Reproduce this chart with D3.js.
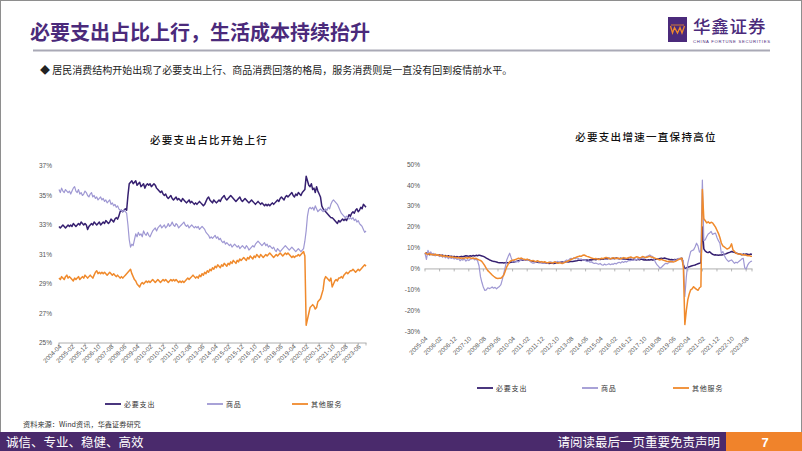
<!DOCTYPE html>
<html><head><meta charset="utf-8">
<script src="https://cdn.jsdelivr.net/npm/d3@7/dist/d3.min.js"></script>
<style>html,body{margin:0;padding:0;background:#fff;}svg{display:block;}</style>
</head><body>
<svg id="c" width="802" height="451"></svg>
<script>
// ---------- DATA ----------
const leftStart = [2004, 4];   // monthly, 2004-04 .. 2023-12
const rightStart = [2005, 4];  // monthly, 2005-04 .. 2023-12
const seriesNames = ["必要支出", "商品", "其他服务"];
const leftTickLabels = ["2004-04","2005-02","2005-12","2006-10","2007-08","2008-06","2009-04","2010-02","2010-12","2011-10","2012-08","2013-06","2014-04","2015-02","2015-12","2016-10","2017-08","2018-06","2019-04","2020-02","2020-12","2021-10","2022-08","2023-06"];
const rightTickLabels = ["2005-04","2006-02","2006-12","2007-10","2008-08","2009-06","2010-04","2011-02","2011-12","2012-10","2013-08","2014-06","2015-04","2016-02","2016-12","2017-10","2018-08","2019-06","2020-04","2021-02","2021-12","2022-10","2023-08"];
const leftYTicks = [25, 27, 29, 31, 33, 35, 37];
const rightYTicks = [-30, -20, -10, 0, 10, 20, 30, 40, 50];

// share of consumption (%)
const leftNecessary = [
32.9,32.8,32.9,33.0,32.9,32.8,32.9,33.0,32.9,
33.0,32.9,33.1,33.0,32.9,33.0,33.1,33.0,33.2,33.1,33.0,33.1,
33.0,32.7,32.9,33.0,33.1,33.0,33.2,33.1,33.0,33.1,33.2,33.0,
33.1,33.2,33.1,33.3,33.2,33.1,33.2,33.4,33.3,33.2,33.4,33.5,
33.4,33.6,33.9,34.0,33.9,34.0,34.1,34.0,35.0,35.8,35.9,36.0,
35.8,35.9,36.0,35.7,35.8,35.9,35.6,35.7,35.8,35.5,35.7,35.8,
35.7,35.8,35.6,35.7,35.8,35.7,35.5,35.4,35.3,35.2,35.3,35.1,
35.0,35.1,34.9,34.8,34.9,35.0,34.8,34.7,34.8,34.9,34.7,34.8,
34.7,34.6,34.8,34.7,34.6,34.5,34.6,34.7,34.5,34.6,34.5,34.4,
34.5,34.4,34.5,34.6,34.5,34.4,34.3,34.4,34.6,34.8,34.9,34.7,
34.6,34.5,34.7,34.6,34.5,34.6,34.7,34.6,34.8,34.9,35.0,34.8,
34.7,34.8,34.9,35.0,34.9,34.8,34.7,34.6,34.7,34.8,34.9,34.7,
34.6,34.7,34.8,34.7,34.6,34.5,34.6,34.7,34.6,34.5,34.4,34.5,
34.6,34.5,34.4,34.5,34.4,34.3,34.4,34.3,34.4,34.3,34.4,34.5,
34.4,34.5,34.6,34.7,34.6,34.8,34.9,34.8,34.7,34.9,35.0,34.9,
35.0,35.1,35.2,35.0,34.9,35.1,35.0,35.2,35.1,35.0,35.2,35.3,
35.4,36.3,36.0,35.7,35.6,35.8,35.4,35.5,35.2,35.6,35.3,35.1,
34.9,34.3,34.1,34.0,33.9,33.8,33.7,33.6,33.5,33.5,33.4,33.3,
33.2,33.1,33.3,33.2,33.3,33.4,33.3,33.4,33.3,33.5,33.7,33.6,
33.8,33.9,33.8,34.0,34.1,33.9,34.0,34.2,34.1,34.4,34.3,34.2];
const leftGoods = [
35.4,35.2,35.5,35.3,35.2,35.4,35.3,35.2,35.3,
35.1,35.3,35.5,35.6,35.3,35.2,35.4,35.1,35.2,35.0,35.1,35.3,
35.2,35.0,34.9,35.1,35.2,34.9,35.0,34.8,34.9,34.7,34.8,34.9,
34.7,34.8,34.6,34.7,34.5,34.6,34.7,34.4,34.5,34.3,34.4,34.2,
34.3,34.1,34.0,34.0,33.9,34.0,33.9,33.8,33.0,32.0,31.5,31.7,
31.6,32.0,32.4,32.2,32.5,32.3,32.4,32.2,32.6,32.4,32.3,32.5,
32.3,32.2,32.4,32.6,32.7,32.8,32.6,32.8,32.9,33.0,32.8,32.9,
33.0,32.8,32.9,33.1,32.9,33.0,33.2,33.0,32.9,33.1,33.0,32.8,
32.9,33.0,33.1,33.2,33.0,32.9,33.0,32.8,32.9,33.0,32.9,32.8,
32.9,32.8,32.9,32.7,32.8,32.9,32.8,32.7,32.5,32.4,32.3,32.1,
32.2,32.1,32.2,32.3,32.1,32.2,32.0,32.1,31.9,31.8,31.9,31.7,
31.8,31.7,31.6,31.7,31.5,31.6,31.7,31.6,31.5,31.6,31.4,31.5,
31.6,31.5,31.4,31.6,31.5,31.3,31.4,31.5,31.6,31.5,31.7,31.8,
31.9,31.8,31.7,31.6,31.7,31.8,31.6,31.7,31.5,31.6,31.5,31.4,
31.5,31.3,31.2,31.4,31.3,31.2,31.3,31.4,31.5,31.6,31.5,31.4,
31.3,31.4,31.5,31.4,31.3,31.2,31.3,31.4,31.3,31.2,31.3,31.4,
31.9,32.6,33.6,34.1,34.2,34.1,34.2,34.0,34.3,34.1,33.9,34.0,
34.1,34.0,33.9,34.0,34.1,34.0,34.2,34.1,34.4,34.6,34.7,34.6,
34.5,34.4,34.2,34.0,33.8,33.7,33.6,33.5,33.6,33.5,33.4,33.5,
33.4,33.5,33.3,33.4,33.2,33.3,33.1,33.0,32.9,32.7,32.5,32.6];
const leftServices = [
29.4,29.3,29.5,29.4,29.3,29.5,29.6,29.4,29.5,
29.4,29.3,29.2,29.4,29.3,29.4,29.5,29.3,29.4,29.5,29.4,29.6,
29.5,29.4,29.5,29.6,29.5,29.4,29.6,29.8,29.9,29.7,29.8,29.7,
29.8,29.7,29.8,29.7,29.6,29.7,29.8,29.7,29.6,29.7,29.6,29.5,
29.6,29.5,29.4,29.5,29.4,29.5,29.6,29.7,29.8,29.9,30.0,29.7,
29.5,29.3,29.2,29.0,28.9,28.8,29.0,29.1,29.0,29.1,29.2,29.1,
29.2,29.1,29.2,29.3,29.2,29.1,29.2,29.3,29.2,29.1,29.2,29.3,
29.2,29.3,29.2,29.1,29.2,29.3,29.2,29.3,29.2,29.3,29.2,29.1,
29.2,29.1,29.2,29.1,29.2,29.3,29.4,29.3,29.4,29.5,29.6,29.5,
29.4,29.5,29.4,29.6,29.5,29.7,29.6,29.8,29.7,29.9,29.8,30.0,
29.9,30.1,30.0,30.2,30.1,30.3,30.2,30.1,30.3,30.2,30.4,30.3,
30.2,30.4,30.3,30.5,30.4,30.6,30.5,30.4,30.6,30.5,30.7,30.6,
30.7,30.8,30.7,30.6,30.8,30.7,30.9,30.8,30.7,30.9,30.8,31.0,
30.9,30.8,31.0,30.9,30.8,30.9,31.0,30.9,31.0,31.1,31.0,30.9,
30.8,30.9,31.0,30.9,31.0,31.1,31.0,30.9,31.0,31.1,31.0,31.1,
31.0,30.9,30.8,30.9,30.8,30.9,30.9,31.0,30.9,31.0,31.1,31.2,
30.9,26.2,26.6,27.0,27.4,27.5,27.6,27.5,27.3,27.4,27.8,27.9,
28.0,28.3,28.6,29.3,29.5,29.4,29.3,29.2,29.4,28.8,29.0,29.2,
29.3,29.2,29.4,29.4,29.5,29.4,29.6,29.7,29.8,29.7,29.8,29.9,
29.9,30.0,29.9,29.8,29.9,30.0,29.9,30.0,30.1,30.2,30.3,30.2];

// year-on-year growth (%)
const rightNecessary = [
7.0,7.6,7.2,6.8,7.1,6.9,7.0,6.6,6.8,
6.5,6.7,6.3,6.6,6.2,6.4,6.0,6.3,5.9,6.1,5.8,6.0,
5.7,5.9,5.6,5.8,6.0,5.8,6.1,6.3,6.2,6.0,6.3,6.1,
6.4,6.2,6.5,6.3,6.6,6.4,6.2,6.0,5.6,5.2,4.8,4.4,
4.1,3.8,3.6,3.5,3.3,3.1,3.0,2.9,3.0,2.8,3.0,3.1,
2.9,3.0,3.2,3.4,3.3,3.5,3.7,3.9,4.1,4.3,4.2,4.3,
4.4,4.2,4.3,4.0,3.8,3.6,3.5,3.3,3.2,3.1,3.2,3.0,
2.9,2.8,2.7,2.9,2.6,2.7,2.8,2.6,2.7,2.9,3.0,3.1,
3.2,3.3,3.1,3.4,3.5,3.3,3.4,3.6,3.5,3.7,3.8,3.9,
4.1,4.2,4.0,4.3,4.4,4.2,4.3,4.1,4.4,4.3,4.5,4.6,
4.4,4.6,4.7,4.5,4.8,4.6,4.9,5.0,4.8,5.1,4.9,5.0,
5.1,4.9,5.2,5.0,4.8,5.1,4.9,4.7,4.8,4.6,4.7,4.5,
4.6,4.4,4.7,4.5,4.3,4.6,4.4,4.7,4.5,4.3,4.4,4.2,
4.4,4.3,4.5,4.2,4.4,4.6,4.8,4.7,5.0,5.1,4.9,5.2,
5.0,4.8,4.6,4.4,4.5,4.3,4.5,4.4,4.6,4.8,5.0,5.1,
2.0,0.3,0.5,0.8,1.0,1.3,1.5,1.7,1.9,2.2,2.5,2.7,
2.9,20.0,9.6,8.5,8.0,7.8,8.2,7.5,7.0,6.7,6.8,6.6,
6.5,6.7,6.6,6.8,7.0,7.2,7.5,7.8,8.0,8.3,8.1,7.9,
7.6,7.4,7.2,7.0,6.8,7.1,6.9,7.2,7.0,6.8,7.1,6.9];
const rightGoods = [
7.5,4.5,8.9,7.3,8.1,6.6,7.4,6.2,7.0,
6.4,5.9,6.8,5.6,6.2,5.3,5.9,4.9,5.6,5.0,5.4,4.7,
5.1,4.5,4.9,3.9,4.6,4.2,4.8,3.7,4.4,4.0,4.6,4.9,
5.0,4.3,4.7,3.9,1.5,-3.7,-6.5,-8.8,-10.3,-10.0,-9.0,-9.4,
-9.1,-8.6,-9.2,-8.8,-9.5,-8.9,-8.4,-7.5,-5.0,-2.0,1.0,4.3,
6.0,7.5,5.4,3.5,4.0,3.2,3.6,3.3,3.9,4.2,4.5,4.1,
4.4,4.0,4.3,3.6,3.1,2.7,2.9,3.3,3.6,3.2,3.5,3.0,
2.8,2.6,3.0,2.7,3.1,3.4,3.2,2.9,3.5,3.3,3.6,3.1,
3.0,2.6,3.2,3.8,4.3,4.0,4.7,5.1,4.8,5.3,4.9,5.2,
5.0,4.5,4.8,4.2,4.4,3.9,3.5,3.8,3.2,3.4,2.9,2.6,
2.8,2.5,2.2,2.6,2.0,1.8,2.3,1.9,2.1,2.5,2.0,2.4,
2.2,2.7,2.4,2.9,3.2,2.8,3.5,3.1,3.6,3.3,3.8,4.1,
4.0,4.3,4.1,4.6,4.4,4.9,4.7,5.1,5.4,5.0,5.6,6.0,
6.3,6.7,6.2,5.9,4.5,3.0,1.9,1.2,0.3,0.8,1.5,2.2,
2.7,2.4,3.0,3.5,3.2,3.9,4.3,4.0,4.6,5.1,4.8,4.5,
4.0,-13.2,-4.0,2.7,5.5,8.3,8.8,9.1,10.5,12.3,11.0,8.0,
9.0,42.5,13.5,13.9,15.5,16.7,17.2,17.9,16.5,16.9,17.1,15.0,
13.5,12.3,7.5,8.3,6.5,5.1,4.2,3.5,4.0,4.3,3.5,2.7,
3.2,2.9,3.6,4.1,4.8,5.1,0.6,0.0,1.8,2.9,3.5,3.8];
const rightServices = [
7.8,7.2,6.9,7.4,6.8,7.0,6.6,7.1,6.5,
6.8,6.3,6.6,6.0,6.4,5.9,6.2,5.7,6.0,5.5,5.8,5.4,
5.6,5.2,5.5,5.0,5.3,4.9,5.2,5.4,5.1,5.5,5.3,5.0,
5.2,4.9,5.1,4.6,4.3,4.1,3.5,2.5,1.5,0.3,-0.8,-1.5,
-2.2,-2.9,-3.5,-4.0,-4.5,-4.6,-4.4,-4.5,-3.8,-2.9,-1.0,1.0,
2.3,3.5,3.9,4.1,4.3,4.5,4.8,5.1,4.9,5.2,4.8,4.6,
4.4,4.7,4.3,4.1,3.8,4.0,3.7,3.5,3.9,3.6,3.3,3.5,
3.2,3.4,3.1,2.9,3.2,3.0,2.8,3.1,3.3,3.0,2.7,3.0,
2.8,2.6,2.9,3.2,3.5,3.8,4.1,4.5,4.8,5.1,5.4,5.7,
5.9,6.2,6.0,6.5,6.7,6.3,6.0,5.8,5.5,5.2,5.0,4.8,
5.0,4.7,4.5,4.8,5.1,4.9,5.2,5.5,5.3,5.0,4.8,5.1,
5.3,5.1,4.9,5.2,5.0,4.8,5.1,5.4,5.2,5.0,5.3,5.5,
5.7,5.4,5.2,5.5,5.8,5.6,5.3,5.5,5.9,5.7,5.4,5.6,
5.8,6.0,5.7,5.5,5.3,5.0,4.8,4.5,4.3,4.6,4.2,4.0,
3.8,3.5,3.7,3.4,3.6,3.3,3.5,3.8,4.2,4.6,4.9,5.1,
0.5,-26.6,-20.0,-14.8,-12.0,-10.0,-9.5,-8.5,-9.2,-9.8,-10.2,-9.0,
-8.5,38.0,24.0,23.0,22.0,22.5,21.8,22.3,22.0,21.0,20.0,18.5,
17.0,15.0,12.4,11.0,10.5,10.0,9.5,9.8,10.5,12.0,9.0,8.4,
7.5,7.3,7.0,7.2,6.9,6.7,6.8,6.5,6.3,6.4,6.1,6.0];

// ---------- HELPERS ----------
function monthCats(start, n) {
  const out = [];
  for (let i = 0; i < n; i++) {
    const t = (start[1] - 1) + i;
    const yy = start[0] + Math.floor(t / 12), mm = (t % 12) + 1;
    out.push(yy + "-" + (mm < 10 ? "0" + mm : mm));
  }
  return out;
}
const leftCats = monthCats(leftStart, leftNecessary.length);
const rightCats = monthCats(rightStart, rightNecessary.length);

const colors = ["#362070", "#9f98d3", "#f08a2c"];
const widths = [1.5, 1.2, 1.5];
const CJK = "'Noto Sans CJK SC','Noto Sans',sans-serif";
const LAT = "'Liberation Sans',Arial,sans-serif";
const PURPLE = "#4b2a7b";

const svg = d3.select("#c");

// frame
svg.append("rect").attr("x",0.5).attr("y",0.5).attr("width",801).attr("height",450)
  .attr("fill","#fff").attr("stroke","#8e8e8e").attr("stroke-width",1);

// header
svg.append("text").attr("x",30).attr("y",40).attr("font-family",CJK).attr("font-weight","bold")
  .attr("font-size",20).attr("fill",PURPLE).text("必要支出占比上行，生活成本持续抬升");
svg.append("rect").attr("x",668).attr("y",17).attr("width",19).attr("height",25).attr("fill",PURPLE);
svg.append("path").attr("d","M670.5,26 L672.5,33 L674.5,27.5 L677.5,33 L680,27.5 L682,33 L684.5,26")
  .attr("fill","none").attr("stroke","#f08a2c").attr("stroke-width",1.3);
svg.append("path").attr("d","M671,25 L684,25").attr("stroke","#f08a2c").attr("stroke-width",0.8);
svg.append("text").attr("x",693).attr("y",32.5).attr("font-family",CJK).attr("font-weight","500")
  .attr("font-size",17.5).attr("fill",PURPLE).attr("letter-spacing",0.8).text("华鑫证券");
svg.append("text").attr("x",693).attr("y",42.5).attr("font-family",LAT)
  .attr("font-size",4.2).attr("fill",PURPLE).attr("textLength",77).text("CHINA FORTUNE SECURITIES");
svg.append("line").attr("x1",33).attr("x2",770).attr("y1",50.5).attr("y2",50.5)
  .attr("stroke","#a9a9b6").attr("stroke-width",2);

svg.append("text").attr("x",40).attr("y",74).attr("font-family",CJK).attr("font-size",10)
  .attr("fill","#222").text("◆ 居民消费结构开始出现了必要支出上行、商品消费回落的格局，服务消费则是一直没有回到疫情前水平。");

// ---------- CHART BUILDER ----------
function drawChart(opt) {
  const g = svg.append("g");
  const x = d3.scaleLinear().domain([0, opt.cats.length - 1]).range(opt.xRange);
  const y = d3.scaleLinear().domain(opt.yDomain).range(opt.yRange);

  g.append("text").attr("x",opt.titleX).attr("y",opt.titleY).attr("text-anchor","middle")
    .attr("font-family",CJK).attr("font-weight","500").attr("font-size",10.5)
    .attr("letter-spacing",1.3).attr("fill","#111").text(opt.title);

  // y labels
  g.selectAll(".yl").data(opt.yTicks).enter().append("text")
    .attr("x",opt.yLabelX).attr("y",d => y(d) + 2.3).attr("text-anchor","end")
    .attr("font-family",LAT).attr("font-size",6.5).attr("fill","#555")
    .text(d => d + "%");

  // x axis line at baseline value
  const ay = y(opt.axisValue);
  g.append("line").attr("x1",opt.xRange[0]-0.5).attr("x2",opt.xRange[1]+0.5)
    .attr("y1",ay).attr("y2",ay).attr("stroke","#9a9a9a").attr("stroke-width",0.8);
  const tickIdx = opt.tickLabels.map(t => opt.cats.indexOf(t));
  const allTicks = tickIdx.slice();
  const step = tickIdx[1] - tickIdx[0];
  let last = tickIdx[tickIdx.length - 1] + step;
  if (last <= opt.cats.length - 1 + step * 0.6) allTicks.push(Math.min(last, opt.cats.length - 1));
  g.selectAll(".tk").data(allTicks).enter().append("line")
    .attr("x1",d => x(d)).attr("x2",d => x(d)).attr("y1",ay).attr("y2",ay + 2.5)
    .attr("stroke","#9a9a9a").attr("stroke-width",0.7);
  g.selectAll(".xl").data(opt.tickLabels).enter().append("text")
    .attr("transform",(d,i) => `translate(${x(tickIdx[i]) + 3},${opt.labelY}) rotate(-45)`)
    .attr("text-anchor","end").attr("font-family",LAT).attr("font-size",6.3).attr("fill","#555")
    .text(d => d);

  // lines
  const line = d3.line().x((d,i) => x(i)).y(d => y(d));
  opt.series.forEach((s, k) => {
    g.append("path").datum(s).attr("d",line).attr("fill","none")
      .attr("stroke",colors[k]).attr("stroke-width",widths[k]).attr("stroke-linejoin","round");
  });

  // legend
  opt.legendX.forEach((lx, k) => {
    g.append("line").attr("x1",lx).attr("x2",lx + 16).attr("y1",opt.legendY).attr("y2",opt.legendY)
      .attr("stroke",colors[k]).attr("stroke-width",1.8);
    g.append("text").attr("x",lx + 19).attr("y",opt.legendY + 2.5).attr("font-family",CJK)
      .attr("font-size",7).attr("letter-spacing",0.8).attr("fill","#333").text(seriesNames[k]);
  });
}

drawChart({
  cats: leftCats, series: [leftNecessary, leftGoods, leftServices],
  xRange: [59, 366], yDomain: [25, 37], yRange: [343, 166], yTicks: leftYTicks,
  yLabelX: 52, axisValue: 25, tickLabels: leftTickLabels, labelY: 347,
  title: "必要支出占比开始上行", titleX: 209, titleY: 144,
  legendX: [105, 207, 292], legendY: 404
});
drawChart({
  cats: rightCats, series: [rightNecessary, rightGoods, rightServices],
  xRange: [425, 752], yDomain: [-30, 50], yRange: [331.7, 164.3], yTicks: rightYTicks,
  yLabelX: 420, axisValue: 0, tickLabels: rightTickLabels, labelY: 339,
  title: "必要支出增速一直保持高位", titleX: 646, titleY: 141,
  legendX: [477, 582, 673], legendY: 388
});

// source + footer
svg.append("text").attr("x",23).attr("y",427).attr("font-family",CJK).attr("font-size",7.2)
  .attr("fill","#333").text("资料来源：Wind资讯，华鑫证券研究");
svg.append("rect").attr("x",0).attr("y",432).attr("width",726).attr("height",19).attr("fill","#4a2a6c");
svg.append("rect").attr("x",726).attr("y",432).attr("width",76).attr("height",19).attr("fill","#f0832b");
svg.append("text").attr("x",6).attr("y",447).attr("font-family",CJK).attr("font-size",12.5)
  .attr("fill","#fff").text("诚信、专业、稳健、高效");
svg.append("text").attr("x",720).attr("y",447).attr("text-anchor","end").attr("font-family",CJK)
  .attr("font-size",12.5).attr("fill","#fff").text("请阅读最后一页重要免责声明");
svg.append("text").attr("x",765).attr("y",447).attr("text-anchor","middle").attr("font-family",LAT)
  .attr("font-weight","bold").attr("font-size",13).attr("fill","#fff").text("7");
</script>
</body></html>
